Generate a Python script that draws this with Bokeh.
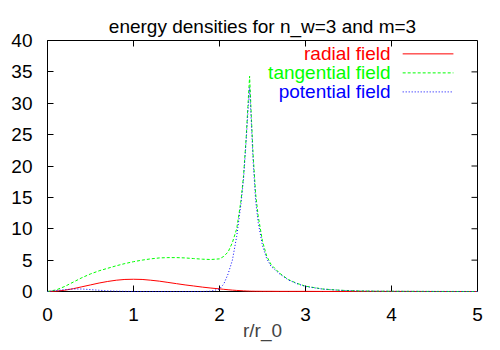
from bokeh.plotting import figure
from bokeh.models import Range1d, Label, FixedTicker
from bokeh.embed import file_html
from bokeh.resources import INLINE

# ---- data ----
r = [0.0, 0.1, 0.2, 0.3, 0.4, 0.5, 0.6, 0.7, 0.8, 0.9, 1.0, 1.1, 1.2, 1.3, 1.4,
     1.5, 1.6, 1.7, 1.8, 1.9, 2.0, 2.05, 2.1, 2.15, 2.2, 2.25, 2.28, 2.31, 2.33,
     2.35, 2.37, 2.39, 2.42, 2.45, 2.5, 2.55, 2.6, 2.7, 2.8, 2.9, 3.0, 3.2, 3.4,
     3.6, 3.8, 4.0, 4.5, 5.0]
radial = [0.0, 0.05, 0.2, 0.45, 0.75, 1.05, 1.35, 1.6, 1.8, 1.92, 1.95, 1.92, 1.8,
          1.65, 1.45, 1.25, 1.05, 0.88, 0.7, 0.55, 0.42, 0.35, 0.28, 0.22, 0.17,
          0.13, 0.1, 0.08, 0.07, 0.06, 0.05, 0.05, 0.04, 0.04, 0.03, 0.03, 0.03,
          0.02, 0.02, 0.02, 0.02, 0.01, 0.01, 0.01, 0.01, 0.01, 0.0, 0.0]
tangential = [0.0, 0.25, 0.8, 1.5, 2.2, 2.8, 3.3, 3.7, 4.1, 4.45, 4.75, 5.0, 5.2,
              5.35, 5.4, 5.4, 5.35, 5.25, 5.15, 5.1, 5.2, 5.6, 6.3, 7.8, 10.0,
              14.5, 18.5, 24.5, 29.5, 34.3, 28.0, 22.0, 15.6, 12.0, 8.0, 5.6, 4.3,
              2.9, 1.9, 1.3, 0.85, 0.4, 0.2, 0.1, 0.05, 0.03, 0.01, 0.0]
potential = [0.0, 0.15, 0.3, 0.4, 0.4, 0.3, 0.2, 0.1, 0.05, 0.02, 0.0, 0.0, 0.0,
             0.0, 0.0, 0.0, 0.0, 0.0, 0.0, 0.05, 0.4, 1.2, 2.8, 5.0, 8.8, 14.0,
             18.0, 24.0, 28.5, 32.5, 27.0, 21.0, 14.5, 11.0, 7.3, 5.2, 4.0, 2.8,
             1.85, 1.25, 0.8, 0.38, 0.19, 0.09, 0.05, 0.03, 0.01, 0.0]
x_ticks = [0, 1, 2, 3, 4, 5]
y_ticks = [0, 5, 10, 15, 20, 25, 30, 35, 40]
series_names = ["radial field", "tangential field", "potential field"]
colors = ["#ff0000", "#00ff00", "#0000ff"]
dashes = ["solid", "3 2", "1 2"]

FONT = "Liberation Sans"
FS = "19px"
X0, X1, Y0, Y1 = 0, 5, 0, 40
W, H = 500, 350
BL, BR, BT, BB = 47, 23, 40, 59
TICK = 6  # px, inward

p = figure(width=W, height=H, output_backend="svg", toolbar_location=None,
           x_range=Range1d(X0, X1), y_range=Range1d(Y0, Y1),
           min_border_left=BL, min_border_right=BR, min_border_top=BT,
           min_border_bottom=BB)

p.title.text = "energy densities for n_w=3 and m=3"
p.title.align = "center"
p.title.text_font = FONT
p.title.text_font_size = FS
p.title.text_font_style = "normal"
p.title.text_color = "black"
p.title.standoff = 8

p.xgrid.visible = False
p.ygrid.visible = False
p.outline_line_color = "black"
p.outline_line_width = 1
p.background_fill_color = "white"
p.border_fill_color = "white"

for ax, ticks in ((p.xaxis[0], x_ticks), (p.yaxis[0], y_ticks)):
    ax.ticker = FixedTicker(ticks=ticks)
    ax.major_tick_in = TICK
    ax.major_tick_out = 0
    ax.minor_tick_line_color = None
    ax.major_tick_line_color = "black"
    ax.axis_line_color = "black"
    ax.major_label_text_font = FONT
    ax.major_label_text_font_size = FS
    ax.major_label_text_color = "black"

p.xaxis.major_label_standoff = 16
p.yaxis.major_label_standoff = 15
p.xaxis.axis_label = "r/r_0"
p.xaxis.axis_label_text_font = FONT
p.xaxis.axis_label_text_font_size = FS
p.xaxis.axis_label_text_font_style = "normal"
p.xaxis.axis_label_standoff = -4

# mirrored inward ticks on the top and right borders
fw = W - BL - BR
fh = H - BT - BB
dy = TICK * (Y1 - Y0) / fh
dx = TICK * (X1 - X0) / fw
p.segment(x0=x_ticks, y0=[Y1] * len(x_ticks), x1=x_ticks, y1=[Y1 - dy] * len(x_ticks),
          line_color="black", line_width=1)
p.segment(x0=[X1] * len(y_ticks), y0=y_ticks, x1=[X1 - dx] * len(y_ticks), y1=y_ticks,
          line_color="black", line_width=1)

# series drawn above the border, as gnuplot does
for ys, c, d in zip((radial, tangential, potential), colors, dashes):
    p.line(r, ys, line_color=c, line_width=1, line_dash=d, level="overlay")

# gnuplot-style legend: right-aligned text, sample line to its right
leg_text_x = 3.99
leg_x0, leg_x1 = 4.13, 4.72
leg_rows = [37.87, 34.84, 31.81]
for name, c, d, yy in zip(series_names, colors, dashes, leg_rows):
    p.add_layout(Label(x=leg_text_x, y=yy, text=name, text_align="right",
                       text_baseline="middle", text_font=FONT, text_font_size=FS,
                       text_color=c))
    p.line([leg_x0, leg_x1], [yy, yy], line_color=c, line_width=1, line_dash=d)

open("out.html", "w").write(file_html(p, INLINE))
